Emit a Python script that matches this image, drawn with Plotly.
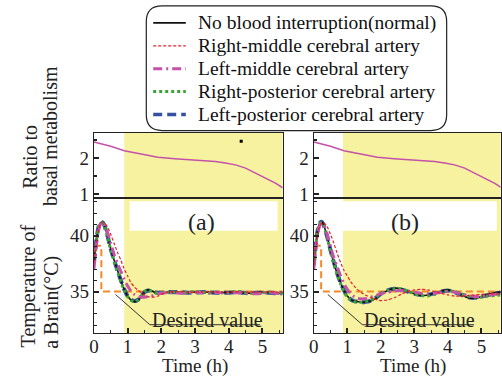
import plotly.graph_objects as go

# ---------------- data ----------------
t_ratio = [0, 0.5, 0.9, 1.4, 1.9, 2.4, 2.8, 3.2, 3.6, 3.9, 4.2, 4.5, 4.8, 5.0, 5.2, 5.4, 5.6]
ratio = [2.44, 2.32, 2.2, 2.1, 2.02, 1.98, 1.96, 1.94, 1.9, 1.86, 1.81, 1.72, 1.58, 1.5, 1.41, 1.3, 1.18]
dot_t = [4.37]
dot_v = [2.46]

T = [0, 0.05, 0.1, 0.15, 0.2, 0.25, 0.3, 0.4, 0.5, 0.6, 0.7, 0.8, 0.9, 1.0, 1.1, 1.2, 1.3, 1.4,
     1.5, 1.6, 1.7, 1.8, 1.9, 2.0, 2.2, 2.4, 2.6, 2.8, 3.0, 3.2, 3.4, 3.6, 3.8, 4.0, 4.2, 4.4,
     4.6, 4.8, 5.0, 5.2, 5.4, 5.6]

a_normal = [37.6, 39.0, 40.2, 40.9, 41.15, 41.2, 41.0, 40.0, 38.8, 37.8, 36.9, 36.0, 35.2, 34.6, 34.25, 34.1, 34.2, 34.55, 34.95, 35.15, 35.1, 34.95, 34.85, 34.85, 34.95, 35.0, 34.95, 34.9, 34.95, 35.0, 34.95, 34.9, 34.9, 34.95, 34.95, 34.9, 34.85, 34.9, 34.95, 34.9, 34.85, 34.85]
a_rmca = [37.6, 38.8, 39.9, 40.6, 41.0, 41.15, 41.15, 40.8, 40.1, 39.3, 38.5, 37.8, 37.0, 36.4, 35.8, 35.4, 35.15, 34.9, 34.7, 34.55, 34.5, 34.5, 34.6, 34.75, 34.95, 35.0, 35.0, 34.95, 34.95, 34.95, 35.0, 34.95, 34.95, 34.95, 35.0, 34.95, 34.95, 34.95, 34.95, 35.0, 34.95, 34.95]
a_lmca = [37.0, 38.5, 39.8, 40.6, 41.05, 41.2, 41.05, 40.3, 39.3, 38.3, 37.5, 36.8, 36.1, 35.5, 35.05, 34.75, 34.6, 34.5, 34.5, 34.55, 34.6, 34.7, 34.8, 34.85, 34.9, 34.9, 34.85, 34.9, 34.95, 34.9, 34.85, 34.9, 34.9, 34.85, 34.9, 34.9, 34.85, 34.8, 34.85, 34.9, 34.85, 34.8]
a_rpca = [37.5, 38.9, 40.1, 40.85, 41.1, 41.15, 40.95, 39.9, 38.7, 37.7, 36.8, 35.9, 35.1, 34.55, 34.2, 34.1, 34.25, 34.6, 35.0, 35.15, 35.05, 34.9, 34.85, 34.9, 34.95, 34.95, 34.9, 34.95, 35.0, 34.95, 34.9, 34.95, 34.9, 34.9, 35.0, 34.95, 34.85, 34.85, 34.9, 34.95, 34.85, 34.9]
a_lpca = [37.6, 39.0, 40.2, 40.9, 41.15, 41.2, 41.0, 40.0, 38.8, 37.8, 36.9, 36.0, 35.2, 34.6, 34.3, 34.15, 34.25, 34.6, 34.95, 35.1, 35.05, 34.95, 34.9, 34.9, 34.95, 34.95, 34.95, 34.9, 34.9, 34.95, 34.95, 34.9, 34.9, 34.9, 34.95, 34.9, 34.85, 34.9, 34.9, 34.9, 34.85, 34.85]

b_normal = [37.4, 38.9, 40.2, 40.9, 41.2, 41.2, 40.9, 39.9, 38.7, 37.5, 36.6, 35.8, 35.1, 34.6, 34.3, 34.15, 34.1, 34.05, 34.05, 34.1, 34.15, 34.3, 34.5, 34.75, 35.1, 35.3, 35.25, 35.0, 34.8, 34.65, 34.7, 34.85, 35.05, 35.15, 35.0, 34.7, 34.45, 34.4, 34.55, 34.75, 34.9, 34.95]
b_rmca = [37.4, 38.6, 39.7, 40.5, 40.95, 41.15, 41.15, 40.8, 40.1, 39.3, 38.4, 37.6, 36.9, 36.4, 35.9, 35.5, 35.2, 34.95, 34.75, 34.6, 34.45, 34.35, 34.25, 34.2, 34.25, 34.45, 34.75, 35.0, 35.15, 35.2, 35.15, 35.0, 34.85, 34.7, 34.6, 34.6, 34.65, 34.7, 34.75, 34.8, 34.8, 34.8]
b_lmca = [37.0, 38.5, 39.8, 40.6, 41.0, 41.1, 40.95, 40.1, 39.0, 38.0, 37.2, 36.4, 35.7, 35.2, 34.8, 34.55, 34.4, 34.35, 34.35, 34.4, 34.5, 34.6, 34.7, 34.8, 34.95, 35.05, 35.1, 35.05, 34.95, 34.85, 34.8, 34.85, 34.95, 35.0, 34.95, 34.8, 34.65, 34.55, 34.55, 34.65, 34.75, 34.8]
b_rpca = [37.3, 38.8, 40.1, 40.85, 41.15, 41.15, 40.85, 39.8, 38.6, 37.5, 36.5, 35.7, 35.0, 34.5, 34.25, 34.1, 34.05, 34.05, 34.1, 34.15, 34.25, 34.4, 34.6, 34.8, 35.1, 35.25, 35.25, 35.05, 34.8, 34.65, 34.6, 34.75, 34.95, 35.05, 35.0, 34.8, 34.6, 34.5, 34.5, 34.6, 34.65, 34.7]
b_lpca = [37.4, 38.9, 40.2, 40.9, 41.2, 41.2, 40.9, 39.9, 38.7, 37.6, 36.6, 35.8, 35.1, 34.6, 34.3, 34.15, 34.1, 34.05, 34.05, 34.1, 34.2, 34.35, 34.55, 34.8, 35.1, 35.25, 35.2, 35.0, 34.8, 34.7, 34.7, 34.85, 35.0, 35.1, 34.95, 34.7, 34.5, 34.45, 34.55, 34.7, 34.85, 34.9]

t_desired = [0, 0.22, 0.22, 5.6]
v_desired = [39.1, 39.1, 35.0, 35.0]

legend_names = ["No blood interruption(normal)", "Right-middle cerebral artery",
                "Left-middle cerebral artery", "Right-posterior cerebral artery",
                "Left-posterior cerebral artery"]
panel_labels = ["(a)", "(b)"]

# ---------------- styles ----------------
FONT = "Liberation Serif, Times New Roman, serif"
W, H = 502, 382
YELLOW = "rgb(247,242,160)"
C_BLACK, C_RED, C_MAG, C_GREEN, C_BLUE, C_ORANGE = "#111111", "#e8202a", "#c452a8", "#3aa535", "#3550a5", "#f5882a"

styles = {
    "lpca": dict(color=C_BLUE, width=4, dash="9px,5px"),
    "normal": dict(color=C_BLACK, width=1.6, dash="solid"),
    "rpca": dict(color=C_GREEN, width=3, dash="dot"),
    "lmca": dict(color=C_MAG, width=3, dash="9px,4px,2px,4px"),
    "rmca": dict(color=C_RED, width=1.2, dash="3px,2px"),
}

def px_x(p):
    return p / W

def px_y(p):
    return 1 - p / H

fig = go.Figure()

panels = [
    dict(xt="x", yt="y", xb="x2", yb="y2",
         series=dict(normal=a_normal, rmca=a_rmca, lmca=a_lmca, rpca=a_rpca, lpca=a_lpca)),
    dict(xt="x3", yt="y3", xb="x4", yb="y4",
         series=dict(normal=b_normal, rmca=b_rmca, lmca=b_lmca, rpca=b_rpca, lpca=b_lpca)),
]

for i, p in enumerate(panels):
    fig.add_trace(go.Scatter(x=t_ratio, y=ratio, mode="lines", xaxis=p["xt"], yaxis=p["yt"],
                             line=dict(color=C_MAG, width=1.5), showlegend=False, hoverinfo="skip"))
    if i == 0:
        fig.add_trace(go.Scatter(x=dot_t, y=dot_v, mode="markers", xaxis=p["xt"], yaxis=p["yt"],
                                 marker=dict(color="black", size=3, symbol="square"), showlegend=False))
    fig.add_trace(go.Scatter(x=t_desired, y=v_desired, mode="lines", xaxis=p["xb"], yaxis=p["yb"],
                             line=dict(color=C_ORANGE, width=2, dash="7px,4px"), showlegend=False))
    for key in ["lpca", "normal", "rpca", "lmca", "rmca"]:
        st = styles[key]
        fig.add_trace(go.Scatter(x=T, y=p["series"][key], mode="lines", xaxis=p["xb"], yaxis=p["yb"],
                                 line=dict(color=st["color"], width=st["width"], dash=st["dash"],
                                           shape="spline", smoothing=0.6),
                                 showlegend=False))

shapes = []
annotations = []
yellow_start = [0.9, 0.87]
white_box = [(1.06, 5.45), (0.87, 5.46)]
label_x = [3.2, 2.72]
desired = [dict(x0=0.64, x1=1.66, x2=4.93, xt=3.36), dict(x0=0.42, x1=1.45, x2=4.78, xt=3.16)]
for i, p in enumerate(panels):
    for xa, ya in [(p["xt"], p["yt"]), (p["xb"], p["yb"])]:
        shapes.append(dict(type="rect", xref=xa, yref=ya + " domain", x0=yellow_start[i], x1=5.7,
                           y0=0, y1=1, fillcolor=YELLOW, line=dict(width=0), layer="below"))
    wb = white_box[i]
    shapes.append(dict(type="rect", xref=p["xb"], yref=p["yb"], x0=wb[0], x1=wb[1], y0=40.44, y1=43.07,
                       fillcolor="white", line=dict(width=0), layer="below"))
    d = desired[i]
    shapes.append(dict(type="line", xref=p["xb"], yref=p["yb"], x0=d["x0"], y0=34.74, x1=d["x1"], y1=32.04,
                       line=dict(color="#333333", width=1)))
    shapes.append(dict(type="line", xref=p["xb"], yref=p["yb"], x0=d["x1"], y0=32.04, x1=d["x2"], y1=32.04,
                       line=dict(color="#333333", width=1)))
    annotations.append(dict(text="Desired value", xref=p["xb"], yref=p["yb"], x=d["xt"], y=32.5,
                            showarrow=False, font=dict(family=FONT, size=20, color="#222"),
                            xanchor="center", yanchor="middle"))
    annotations.append(dict(text=panel_labels[i], xref=p["xb"], yref=p["yb"], x=label_x[i], y=41.25,
                            showarrow=False, font=dict(family=FONT, size=24, color="#222"),
                            xanchor="center", yanchor="middle"))

# Legend box (rounded)
L, R, Tp, B, r = 143, 447, 6, 133, 16
path = (f"M {px_x(L + r)} {px_y(Tp)} L {px_x(R - r)} {px_y(Tp)} "
        f"Q {px_x(R)} {px_y(Tp)} {px_x(R)} {px_y(Tp + r)} L {px_x(R)} {px_y(B - r)} "
        f"Q {px_x(R)} {px_y(B)} {px_x(R - r)} {px_y(B)} L {px_x(L + r)} {px_y(B)} "
        f"Q {px_x(L)} {px_y(B)} {px_x(L)} {px_y(B - r)} L {px_x(L)} {px_y(Tp + r)} "
        f"Q {px_x(L)} {px_y(Tp)} {px_x(L + r)} {px_y(Tp)} Z")
shapes.append(dict(type="path", xref="paper", yref="paper", path=path,
                   line=dict(color="#222222", width=1.2), fillcolor="rgba(255,255,255,0)"))
row_y = [23.3, 46.7, 70.0, 93.3, 116.7]
for k, key in enumerate(["normal", "rmca", "lmca", "rpca", "lpca"]):
    st = styles[key]
    shapes.append(dict(type="line", xref="paper", yref="paper", x0=px_x(150), x1=px_x(183),
                       y0=px_y(row_y[k]), y1=px_y(row_y[k]),
                       line=dict(color=st["color"], width=min(st["width"], 3.5), dash=st["dash"])))
    annotations.append(dict(text=legend_names[k], xref="paper", yref="paper", x=px_x(193), y=px_y(row_y[k]),
                            showarrow=False, xanchor="left", yanchor="middle",
                            font=dict(family=FONT, size=19.5, color="#111")))

# axis titles
for txt, cx, cy in [("Ratio to", 25, 160), ("basal metabolism", 46, 138),
                    ("Temperature of", 24, 291), ("a Brain(°C)", 47, 308)]:
    annotations.append(dict(text=txt, xref="paper", yref="paper", x=px_x(cx), y=px_y(cy), textangle=-90,
                            showarrow=False, xanchor="center", yanchor="middle",
                            font=dict(family=FONT, size=20, color="#222")))
for cx in [192, 413]:
    annotations.append(dict(text="Time (h)", xref="paper", yref="paper", x=px_x(cx), y=px_y(386),
                            showarrow=False, xanchor="center", yanchor="bottom",
                            font=dict(family=FONT, size=19, color="#222")))

tickfont = dict(family=FONT, size=19, color="#222")
common = dict(showline=True, mirror=True, linecolor="#222", linewidth=1.3, showgrid=False, zeroline=False,
              ticks="inside", tickcolor="#222", tickwidth=1.5, ticklen=5, tickfont=tickfont)

xl = [px_x(90), px_x(281)]
xr = [px_x(312.5), px_x(501.5)]
yt_dom = [px_y(202), px_y(135)]
yb_dom = [px_y(339), px_y(202)]

def xtop(dom, anchor, rng):
    return dict(common, domain=dom, anchor=anchor, range=rng, showticklabels=False, ticks="")

def xbot(dom, anchor, rng):
    return dict(common, domain=dom, anchor=anchor, range=rng, dtick=1, tick0=0, ticklabelstandoff=-4,
                minor=dict(ticks="inside", dtick=0.5, ticklen=3, tickwidth=1, tickcolor="#222"))

def ytop(dom, anchor):
    return dict(common, domain=dom, anchor=anchor, range=[0.89, 2.70], dtick=1, tick0=0,
                minor=dict(ticks="inside", dtick=0.5, ticklen=3, tickwidth=1.5, tickcolor="#222"))

def ybot(dom, anchor):
    return dict(common, domain=dom, anchor=anchor, range=[31.32, 43.33], dtick=5, tick0=0,
                minor=dict(ticks="inside", dtick=1, ticklen=3, tickwidth=1, tickcolor="#222"))

fig.update_layout(
    width=W, height=H, margin=dict(l=0, r=0, t=0, b=0),
    paper_bgcolor="white", plot_bgcolor="white", showlegend=False,
    xaxis=xtop(xl, "y", [0, 5.6]), yaxis=ytop(yt_dom, "x"),
    xaxis2=xbot(xl, "y2", [0, 5.6]), yaxis2=ybot(yb_dom, "x2"),
    xaxis3=xtop(xr, "y3", [0, 5.57]), yaxis3=ytop(yt_dom, "x3"),
    xaxis4=xbot(xr, "y4", [0, 5.57]), yaxis4=ybot(yb_dom, "x4"),
    shapes=shapes, annotations=annotations,
)

fig.write_html("out.html")
